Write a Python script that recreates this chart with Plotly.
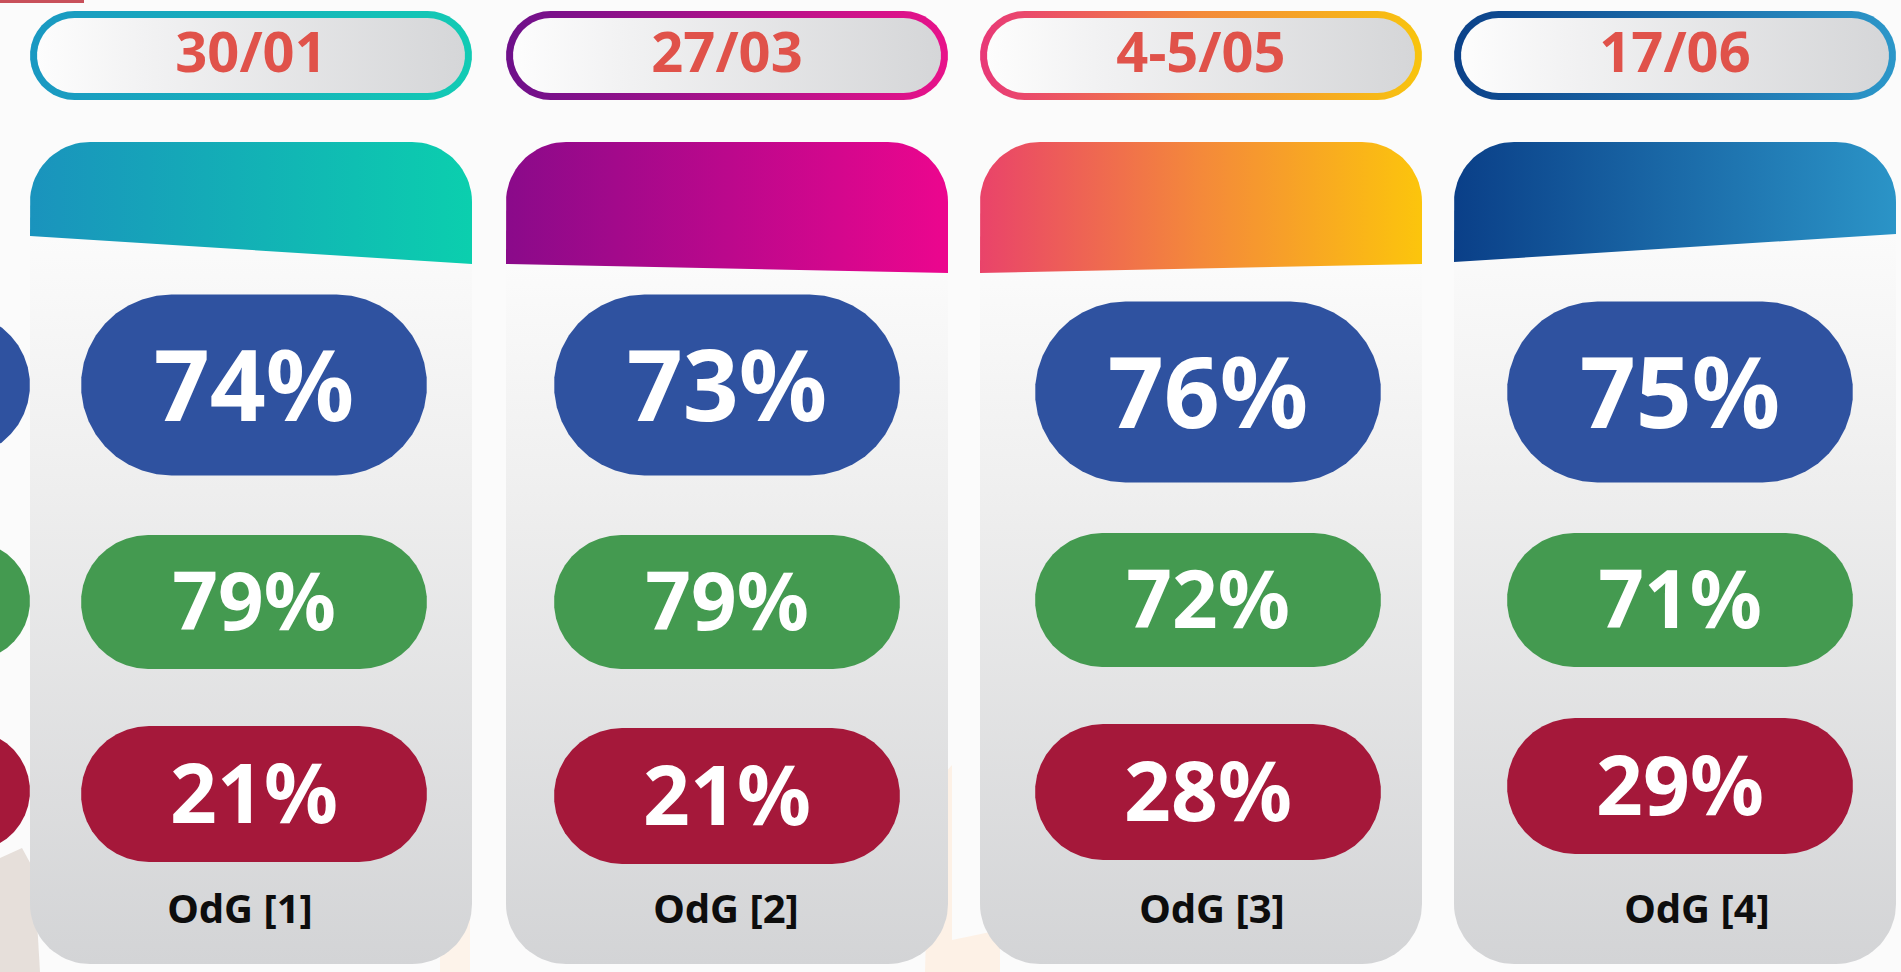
import numpy as np
import plotly.graph_objects as go

# Data.
dates = ["30/01", "27/03", "4-5/05", "17/06"]
labels = ["OdG [1]", "OdG [2]", "OdG [3]", "OdG [4]"]
blue_vals = [74, 73, 76, 75]
green_vals = [79, 79, 72, 71]
red_vals = [21, 21, 28, 29]

# Layout (pixel units, y grows downwards).
W, H = 1901, 972
card_left = [30, 506, 980, 1454]
card_w = 442
pill_cx = [254, 727, 1208, 1680]
label_cx = [240, 726, 1212, 1697]
blue_cy = [385, 385, 392, 392]
green_cy = [602, 602, 600, 600]
red_cy = [794, 796, 792, 786]
head_bottom = [(236, 264), (264, 273), (273, 264), (262, 234)]

head_colors = [
    [[0, "#1a93bd"], [1, "#0bcfae"]],
    [[0, "#8a0a8a"], [1, "#ec068e"]],
    [[0, "#e9436a"], [0.5, "#f4893a"], [1, "#fcc50c"]],
    [[0, "#0a3f88"], [1, "#2b94c7"]],
]
ring_colors = [
    [[0, "#1a98c2"], [1, "#12cbb4"]],
    [[0, "#6e108a"], [1, "#e8138a"]],
    [[0, "#e83878"], [0.5, "#f38a3a"], [1, "#f8c40e"]],
    [[0, "#0b4189"], [1, "#2c97c9"]],
]
BLUE, GREEN, RED = "#2f52a0", "#449a50", "#a5183a"


def arc(cx, cy, r, a0, a1, n=20):
    t = np.radians(np.linspace(a0, a1, n))
    return list(cx + r * np.cos(t)), list(cy + r * np.sin(t))


def stadium(cx, cy, w, h):
    r = h / 2
    x1, y1 = arc(cx - w / 2 + r, cy, r, 90, 270)
    x2, y2 = arc(cx + w / 2 - r, cy, r, 270, 450)
    return x1 + x2 + [x1[0]], y1 + y2 + [y1[0]]


def header(x0, x1, top, bl, br, r=60):
    xa, ya = arc(x0 + r, top + r, r, 180, 270)
    xb, yb = arc(x1 - r, top + r, r, 270, 360)
    return [x0] + xa + xb + [x1, x0], [bl] + ya + yb + [br, bl]


def body(x0, x1, bl, br, bottom, r=60):
    xa, ya = arc(x1 - r, bottom - r, r, 0, 90)
    xb, yb = arc(x0 + r, bottom - r, r, 90, 180)
    return [x0, x1] + xa + xb + [x0], [bl, br] + ya + yb + [bl]


fig = go.Figure()


def poly(xy, color=None, grad=None):
    xs, ys = xy
    kw = dict(x=xs, y=ys, mode="lines", fill="toself", line=dict(width=0),
              hoverinfo="skip", showlegend=False)
    if grad is not None:
        kw["fillgradient"] = grad
        kw["fillcolor"] = "rgba(0,0,0,0)"
    else:
        kw["fillcolor"] = color
    fig.add_trace(go.Scatter(**kw))


# Faint background illustration bits.
poly(([0, 22, 34, 40, 0], [858, 848, 870, 972, 972]), "#e6dfda")
poly(([930, 952, 952, 1000, 1000, 925], [790, 765, 940, 930, 972, 972]), "#fdf1e6")
poly(([440, 470, 470, 440], [800, 800, 972, 972]), "#fdf3ea")
poly(([0, 84, 84, 0], [0, 0, 3, 3]), "#c8505a")

# Partial pills of a previous card on the left edge.
for cy, h, c in [(385, 145, BLUE), (601, 119, GREEN), (791, 121, RED)]:
    poly(stadium(30 - 173, cy, 346, h), c)

for i, x0 in enumerate(card_left):
    x1 = x0 + card_w
    bl, br = head_bottom[i]
    poly(body(x0, x1, min(bl, br) - 6, min(bl, br) - 6, 964),
         grad=dict(type="vertical", start=min(bl, br), stop=964,
                   colorscale=[[0, "#fbfbfb"], [0.35, "#eeeeee"], [1, "#d3d4d6"]]))
    poly(header(x0, x1, 142, bl, br), grad=dict(type="horizontal", colorscale=head_colors[i]))
    # date pill with a gradient ring
    cx = x0 + card_w / 2
    poly(stadium(cx, 55.5, card_w, 89), grad=dict(type="horizontal", colorscale=ring_colors[i]))
    poly(stadium(cx, 55.5, card_w - 14, 75),
         grad=dict(type="horizontal",
                   colorscale=[[0, "#fdfdfd"], [0.25, "#f2f2f3"], [1, "#d5d6d8"]]))
    poly(stadium(pill_cx[i], blue_cy[i], 346, 181), BLUE)
    poly(stadium(pill_cx[i], green_cy[i], 346, 134), GREEN)
    poly(stadium(pill_cx[i], red_cy[i], 346, 136), RED)

card_cx = [x + card_w / 2 for x in card_left]


def text_row(xs, ys, texts, size, color, dy=0):
    fig.add_trace(go.Scatter(
        x=xs, y=[y + dy for y in ys], text=texts, mode="text", textposition="middle center",
        textfont=dict(family="Noto Sans", size=size, color=color, weight="bold"),
        hoverinfo="skip", showlegend=False))


text_row(card_cx, [54] * 4, dates, 56, "#e0524a", dy=4)
text_row(pill_cx, blue_cy, [f"{v}%" for v in blue_vals], 98, "white", dy=11)
text_row(pill_cx, green_cy, [f"{v}%" for v in green_vals], 80, "white", dy=8)
text_row(pill_cx, red_cy, [f"{v}%" for v in red_vals], 82, "white", dy=8)
text_row(label_cx, [909] * 4, labels, 40, "#0d0d0d", dy=4)

fig.update_layout(
    width=W, height=H, margin=dict(l=0, r=0, t=0, b=0),
    paper_bgcolor="#fbfbfb", plot_bgcolor="#fbfbfb",
    xaxis=dict(range=[0, W], visible=False, fixedrange=True),
    yaxis=dict(range=[H, 0], visible=False, fixedrange=True),
)

fig.write_html("out.html", config={"displayModeBar": False},
               post_script="document.body.style.margin='0';document.body.style.overflow='hidden';")
